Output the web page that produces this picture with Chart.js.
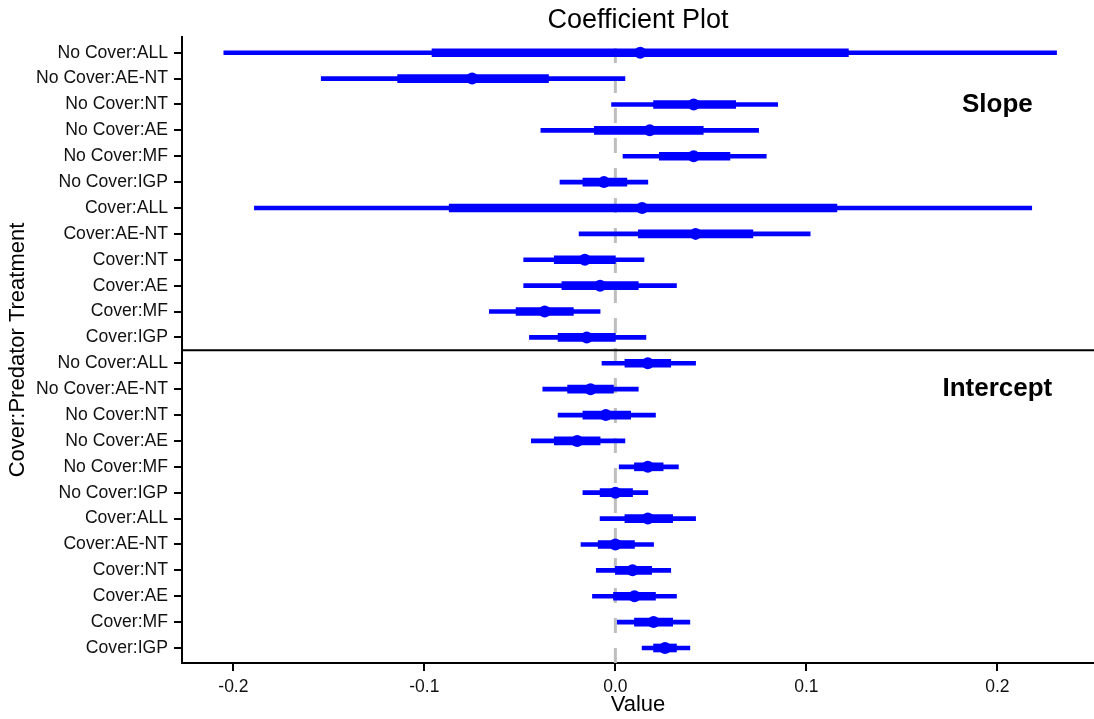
<!DOCTYPE html>
<html>
<head>
<meta charset="utf-8">
<script src="https://cdn.jsdelivr.net/npm/chart.js@4.4.1/dist/chart.umd.min.js"></script>
<style>
  html, body { margin: 0; padding: 0; background: #fff; overflow: hidden; }
  #wrap { width: 1094px; height: 719px; }
</style>
</head>
<body>
<div id="wrap"><canvas id="coefChart"></canvas></div>
<script>
// coefficient plot: slope block on top, intercept block below
const treatments = [
  "No Cover:ALL", "No Cover:AE-NT", "No Cover:NT", "No Cover:AE", "No Cover:MF", "No Cover:IGP",
  "Cover:ALL", "Cover:AE-NT", "Cover:NT", "Cover:AE", "Cover:MF", "Cover:IGP"
];
const panels = ["Slope", "Intercept"];
const rowLabels = [...treatments, ...treatments];

const estimates = [
  0.013, -0.075, 0.041, 0.018, 0.041, -0.006, 0.014, 0.042, -0.016, -0.008, -0.037, -0.015,
  0.017, -0.013, -0.005, -0.020, 0.017, 0.000, 0.017, 0.000, 0.009, 0.010, 0.020, 0.026
];
const outerLow = [
  -0.205, -0.154, -0.002, -0.039, 0.004, -0.029, -0.189, -0.019, -0.048, -0.048, -0.066, -0.045,
  -0.007, -0.038, -0.030, -0.044, 0.002, -0.017, -0.008, -0.018, -0.010, -0.012, 0.001, 0.014
];
const outerHigh = [
  0.231, 0.005, 0.085, 0.075, 0.079, 0.017, 0.218, 0.102, 0.015, 0.032, -0.008, 0.016,
  0.042, 0.012, 0.021, 0.005, 0.033, 0.017, 0.042, 0.020, 0.029, 0.032, 0.039, 0.039
];
const innerLow = [
  -0.096, -0.114, 0.020, -0.011, 0.023, -0.017, -0.087, 0.012, -0.032, -0.028, -0.052, -0.030,
  0.005, -0.025, -0.017, -0.032, 0.010, -0.008, 0.005, -0.009, 0.000, -0.001, 0.010, 0.020
];
const innerHigh = [
  0.122, -0.035, 0.063, 0.046, 0.060, 0.006, 0.116, 0.072, 0.000, 0.012, -0.022, 0.000,
  0.029, -0.001, 0.008, -0.008, 0.025, 0.009, 0.030, 0.010, 0.019, 0.021, 0.030, 0.032
];
const xTicks = [-0.2, -0.1, 0.0, 0.1, 0.2];

const FONT = "'Liberation Sans', Arial, sans-serif";
const BLUE = "#0000ff";
const TICK_LEN = 8;

const guides = {
  id: "guides",
  beforeDatasetsDraw(chart) {
    const { ctx, chartArea: a, scales: { x, y } } = chart;
    ctx.save();
    // dashed zero line
    const zx = x.getPixelForValue(0);
    ctx.strokeStyle = "#bebebe";
    ctx.lineWidth = 3;
    ctx.setLineDash([15, 15]);
    ctx.beginPath();
    ctx.moveTo(zx, a.bottom);
    ctx.lineTo(zx, a.top);
    ctx.stroke();
    // divider between the two blocks
    ctx.setLineDash([]);
    const dy = y.getPixelForValue(treatments.length - 0.5);
    ctx.strokeStyle = "#000";
    ctx.lineWidth = 2;
    ctx.beginPath();
    ctx.moveTo(a.left, dy);
    ctx.lineTo(a.right, dy);
    ctx.stroke();
    ctx.restore();
  },
  afterDatasetsDraw(chart) {
    const { ctx, chartArea: a, scales: { x, y } } = chart;
    ctx.save();
    ctx.fillStyle = "#000";
    ctx.textAlign = "center";
    ctx.textBaseline = "middle";
    // title centred over the plot panel
    ctx.font = "27px " + FONT;
    ctx.fillText("Coefficient Plot", (a.left + a.right) / 2, 21);
    ctx.font = "bold 26px " + FONT;
    ctx.fillText(panels[0], x.getPixelForValue(0.2), y.getPixelForValue(2));
    ctx.fillText(panels[1], x.getPixelForValue(0.2), y.getPixelForValue(13));
    ctx.restore();
  },
  afterDraw(chart) {
    // tick marks outside the axes
    const { ctx, chartArea: a, scales: { x, y } } = chart;
    ctx.save();
    ctx.strokeStyle = "#000";
    ctx.lineWidth = 2;
    ctx.beginPath();
    y.ticks.forEach((t) => {
      const py = Math.round(y.getPixelForValue(t.value));
      ctx.moveTo(a.left - TICK_LEN, py);
      ctx.lineTo(a.left, py);
    });
    x.ticks.forEach((t) => {
      const px = Math.round(x.getPixelForValue(t.value));
      ctx.moveTo(px, a.bottom);
      ctx.lineTo(px, a.bottom + TICK_LEN);
    });
    ctx.stroke();
    ctx.restore();
  }
};

const rows = rowLabels.map((_, i) => i);

new Chart(document.getElementById("coefChart"), {
  type: "bar",
  data: {
    datasets: [
      {
        type: "scatter",
        data: rows.map((i) => ({ x: estimates[i], y: i })),
        backgroundColor: BLUE,
        borderColor: BLUE,
        pointRadius: 6,
        borderWidth: 0,
        order: 0
      },
      {
        data: rows.map((i) => ({ x: [innerLow[i], innerHigh[i]], y: i })),
        backgroundColor: BLUE,
        barThickness: 8,
        grouped: false,
        borderWidth: 0,
        borderSkipped: false,
        order: 1
      },
      {
        data: rows.map((i) => ({ x: [outerLow[i], outerHigh[i]], y: i })),
        backgroundColor: BLUE,
        barThickness: 4,
        grouped: false,
        borderWidth: 0,
        borderSkipped: false,
        order: 2
      }
    ]
  },
  options: {
    indexAxis: "y",
    responsive: true,
    maintainAspectRatio: false,
    animation: false,
    layout: { padding: { top: 37, left: 0, right: 0, bottom: 0 }, autoPadding: false },
    plugins: {
      legend: { display: false },
      tooltip: { enabled: false },
      title: { display: false }
    },
    scales: {
      x: {
        type: "linear",
        min: -0.2269,
        max: 0.2506,
        afterBuildTicks: (axis) => { axis.ticks = xTicks.map((v) => ({ value: v })); },
        afterFit: (axis) => { axis.height = 56; },
        ticks: {
          color: "#111",
          font: { family: FONT, size: 17.5 },
          padding: 6,
          maxRotation: 0,
          callback: (v) => v.toFixed(1)
        },
        grid: { display: false, drawTicks: true, tickLength: TICK_LEN },
        border: { display: true, color: "#000", width: 2 },
        title: {
          display: true,
          text: "Value",
          color: "#000",
          font: { family: FONT, size: 22 },
          padding: { top: 1, bottom: 1 }
        }
      },
      y: {
        type: "linear",
        reverse: true,
        offset: false,
        min: -0.607,
        max: 23.58,
        afterBuildTicks: (axis) => { axis.ticks = rows.map((i) => ({ value: i })); },
        afterFit: (axis) => { axis.width = 182; },
        ticks: {
          color: "#111",
          font: { family: FONT, size: 17.6 },
          padding: 6,
          autoSkip: false,
          callback: (v) => rowLabels[v]
        },
        grid: { display: false, drawTicks: true, tickLength: TICK_LEN },
        border: { display: true, color: "#000", width: 2 },
        title: {
          display: true,
          text: "Cover:Predator Treatment",
          color: "#000",
          font: { family: FONT, size: 22 },
          padding: { top: 5, bottom: 0 }
        }
      }
    }
  },
  plugins: [guides]
});
</script>
</body>
</html>
